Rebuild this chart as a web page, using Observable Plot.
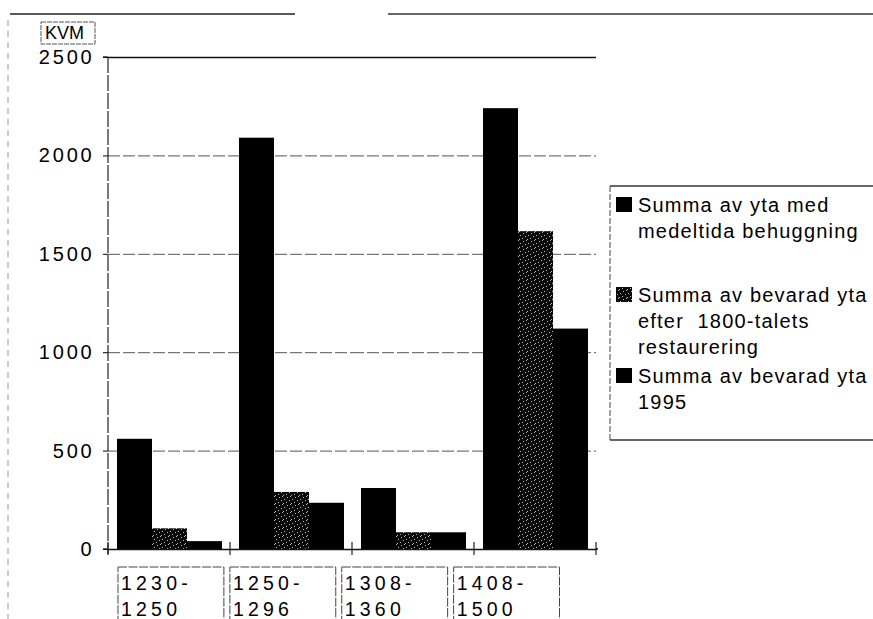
<!DOCTYPE html>
<html>
<head>
<meta charset="utf-8">
<script src="https://cdn.jsdelivr.net/npm/d3@7"></script>
<script src="https://cdn.jsdelivr.net/npm/@observablehq/plot@0.6"></script>
<style>
html, body { margin: 0; padding: 0; background: #fff; }
#chart { width: 873px; height: 619px; overflow: hidden; }
svg text { font-family: "Liberation Sans", Arial, Helvetica, sans-serif; }
g[aria-label="y-axis tick label"] text { letter-spacing: 2.8px; font-size: 20px; }
</style>
</head>
<body>
<div id="chart"></div>
<script>
// ---- data ----
const periods = ["1230-1250", "1250-1296", "1308-1360", "1408-1500"];
const seriesNames = [
  "Summa av yta med medeltida behuggning",
  "Summa av bevarad yta efter 1800-talets restaurering",
  "Summa av bevarad yta 1995"
];
const medeltidaBehuggning = [560, 2090, 310, 2240];
const efter1800Restaurering = [105, 290, 85, 1615];
const bevarad1995 = [40, 235, 85, 1120];
const yTicks = [0, 500, 1000, 1500, 2000, 2500];
const yLabel = "KVM";
const legendLines = [
  ["Summa av yta med", "medeltida behuggning"],
  ["Summa av bevarad yta", "efter  1800-talets", "restaurering"],
  ["Summa av bevarad yta", "1995"]
];

const seriesValues = [medeltidaBehuggning, efter1800Restaurering, bevarad1995];
const table = periods.flatMap((p, i) =>
  seriesNames.map((s, j) => ({period: p, series: s, value: seriesValues[j][i]}))
);

const chart = Plot.plot({
  width: 873,
  height: 619,
  marginLeft: 108,
  marginRight: 277,
  marginTop: 57,
  marginBottom: 70,
  style: {background: "#fff", color: "#000", fontSize: "19px", fontFamily: "Liberation Sans, Arial, sans-serif", overflow: "visible"},
  fx: {domain: periods, padding: 0, axis: null},
  x: {domain: seriesNames, paddingInner: 0, paddingOuter: 0.21, axis: null},
  y: {domain: [0, 2500], ticks: yTicks, tickSize: 5, tickPadding: 9, label: null, tickFormat: d => String(d)},
  color: {type: "ordinal", domain: seriesNames, range: ["#000", "url(#stipple)", "#000"]},
  marks: [
    Plot.ruleY(yTicks.filter(v => v > 0 && v < 2500), {stroke: "#555", strokeWidth: 1, strokeDasharray: "12,3"}),
    Plot.barY(table, {fx: "period", x: "series", y: "value", fill: "series"}),
    Plot.ruleY([0, 2500], {stroke: "#111", strokeWidth: 1.3})
  ]
});

document.getElementById("chart").appendChild(chart);

// ---- decorations drawn from the plot's scales ----
const svg = d3.select(chart);
const fx = chart.scale("fx");
const y = chart.scale("y");
const color = chart.scale("color");

// stipple pattern for the middle series
const defs = svg.insert("defs", ":first-child");
const pat = defs.append("pattern").attr("id", "stipple")
  .attr("patternUnits", "userSpaceOnUse").attr("width", 8).attr("height", 8);
pat.append("rect").attr("width", 8).attr("height", 8).attr("fill", "#080808");
[[0,0],[5,1],[2,3],[7,4],[4,6],[1,7]].forEach(([px, py]) =>
  pat.append("rect").attr("x", px).attr("y", py).attr("width", 1).attr("height", 1).attr("fill", "#bbb"));

const x0 = fx.apply(periods[0]);
const xEnd = fx.apply(periods[periods.length - 1]) + fx.bandwidth;
const yTop = y.apply(2500);
const yZero = y.apply(0);

const deco = svg.append("g").attr("text-anchor", "start");

// left stubs of the top and zero lines
[yTop, yZero].forEach(yy => deco.append("line").attr("x1", x0 - 5).attr("x2", x0).attr("y1", yy).attr("y2", yy)
  .attr("stroke", "#111").attr("stroke-width", 1.3));

// y-axis line
deco.append("line").attr("x1", x0).attr("x2", x0).attr("y1", yTop).attr("y2", yZero + 5)
  .attr("stroke", "#222").attr("stroke-width", 1.2).attr("stroke-dasharray", "16,2");

// category boundary ticks on the x axis
const bounds = periods.map(p => fx.apply(p)).concat([xEnd]);
deco.selectAll("line.bt").data(bounds).join("line").attr("class", "bt")
  .attr("x1", d => d).attr("x2", d => d).attr("y1", yZero - 7).attr("y2", yZero + 6)
  .attr("stroke", "#222").attr("stroke-width", 1.2);
deco.append("line").attr("x1", xEnd).attr("x2", xEnd + 2).attr("y1", yZero).attr("y2", yZero)
  .attr("stroke", "#111").attr("stroke-width", 1.3);

// KVM label in a box
const kvm = deco.append("text").attr("x", x0 - 63).attr("y", yTop - 18)
  .attr("font-size", 18).attr("fill", "#000").text(yLabel);
const kb = kvm.node().getBBox();
deco.append("rect").attr("x", kb.x - 4).attr("y", kb.y - 1).attr("width", kb.width + 15).attr("height", kb.height + 2)
  .attr("fill", "none").attr("stroke", "#555").attr("stroke-width", 1).attr("stroke-dasharray", "5,1");

// category labels in boxes (field buttons) laid out in a row
const lab = deco.append("g");
const labGroups = periods.map(p => {
  const [a, b] = p.split("-");
  const g = lab.append("g");
  const t = g.append("text").attr("font-size", 19.5).attr("letter-spacing", 4.2).attr("fill", "#000");
  t.append("tspan").attr("x", 3).attr("y", 23).text(a + "-");
  t.append("tspan").attr("x", 3).attr("y", 49).text(b);
  return {g, w: t.node().getBBox().width};
});
const boxW = d3.max(labGroups, d => d.w) + 35;
let cx = x0 + 10;
labGroups.forEach(({g}) => {
  g.attr("transform", `translate(${cx},${yZero + 18})`);
  g.insert("rect", ":first-child").attr("x", 0).attr("y", 0).attr("width", boxW).attr("height", 70)
    .attr("fill", "none").attr("stroke", "#444").attr("stroke-width", 1).attr("stroke-dasharray", "9,1.5");
  cx += boxW + 6;
});

// legend
const lg = deco.append("g").attr("transform", `translate(${xEnd + 14},186)`);
const legW = 873 - (xEnd + 14);
lg.append("line").attr("x1", 0).attr("x2", legW).attr("y1", 0).attr("y2", 0).attr("stroke", "#333").attr("stroke-width", 1.3);
lg.append("line").attr("x1", 0).attr("x2", legW).attr("y1", 254).attr("y2", 254).attr("stroke", "#333").attr("stroke-width", 1.3);
lg.append("line").attr("x1", 0).attr("x2", 0).attr("y1", 0).attr("y2", 254).attr("stroke", "#444").attr("stroke-width", 1).attr("stroke-dasharray", "6,2");
const entryTops = [26, 116, 197];
legendLines.forEach((lines, i) => {
  const base = entryTops[i];
  lg.append("rect").attr("x", 6).attr("y", base - 15).attr("width", 16).attr("height", 15)
    .attr("fill", color.apply(seriesNames[i]));
  const t = lg.append("text").attr("font-size", 20).attr("letter-spacing", 1.2).attr("fill", "#000")
    .style("white-space", "pre");
  lines.forEach((ln, k) => t.append("tspan").attr("x", 28).attr("y", base + k * 26).text(ln));
});

// scan edges
deco.append("line").attr("x1", 10).attr("x2", 295).attr("y1", 14).attr("y2", 14).attr("stroke", "#222").attr("stroke-width", 1.4);
deco.append("line").attr("x1", 388).attr("x2", 873).attr("y1", 14).attr("y2", 14).attr("stroke", "#333").attr("stroke-width", 1.4);
deco.append("line").attr("x1", 8).attr("x2", 8).attr("y1", 20).attr("y2", 619).attr("stroke", "#999").attr("stroke-width", 1).attr("stroke-dasharray", "6,5");
</script>
</body>
</html>
